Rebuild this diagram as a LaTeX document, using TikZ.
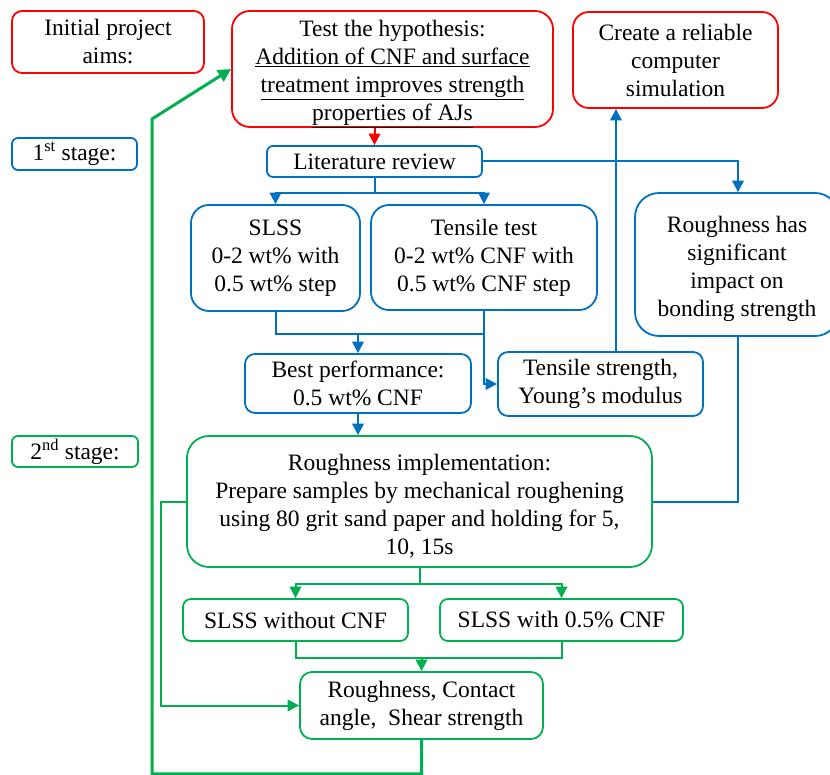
\documentclass[tikz,border=0pt]{standalone}
\usepackage{fontspec}
\setmainfont{Liberation Serif}
\usetikzlibrary{arrows.meta}
\definecolor{cred}{HTML}{FF0000}
\definecolor{cblue}{HTML}{0070C0}
\definecolor{cgreen}{HTML}{00B050}
\begin{document}
\begin{tikzpicture}[x=1pt,y=-1pt,
  txt/.style={align=center, inner sep=0pt, font=\fontsize{23.5}{28}\selectfont, text=black},
  box/.style={txt, draw, line width=1.8pt},
  redbox/.style={box, draw=cred},
  bluebox/.style={box, draw=cblue},
  greenbox/.style={box, draw=cgreen},
  tip/.style={-{Triangle[length=11.5pt,width=11.5pt]}},
  bline/.style={draw=cblue, line width=2pt},
  gline/.style={draw=cgreen, line width=2pt},
  rline/.style={draw=cred, line width=2pt}]
\useasboundingbox (0,0) rectangle (830,775);
\fill[white] (0,0) rectangle (830,775);
% nodes
\node[redbox, rounded corners=10pt, minimum width=192pt, minimum height=62pt] (aims) at (108,42) {Initial project\\aims:};
\node[redbox, rounded corners=18pt, minimum width=321pt, minimum height=116pt] (hyp) at (392.5,69) {};
\node[txt] (hyptext) at ([yshift=-5pt]hyp.center)
  {Test the hypothesis:\\\underline{Addition of CNF and surface}\\\underline{treatment improves strength}\\\underline{properties of AJs}};
\node[redbox, rounded corners=16pt, minimum width=205pt, minimum height=96pt] (sim) at (675.5,60) {Create a reliable\\computer\\simulation};
\node[bluebox, rounded corners=6pt, minimum width=125pt, minimum height=32pt] (st1) at (74.5,154) {1\textsuperscript{st} stage:};
\node[bluebox, rounded corners=6pt, minimum width=215pt, minimum height=31pt] (lit) at (374.5,161.5) {Literature review};
\node[bluebox, rounded corners=18pt, minimum width=169pt, minimum height=106pt] (slss) at (275.5,258) {SLSS\\0-2 wt\% with\\0.5 wt\% step};
\node[bluebox, rounded corners=18pt, minimum width=226pt, minimum height=105pt] (tens) at (484,257.5) {Tensile test\\0-2 wt\% CNF with\\0.5 wt\% CNF step};
\node[bluebox, rounded corners=24pt, minimum width=204pt, minimum height=143pt] (rough) at (737,264.5) {\rule{0pt}{26pt}Roughness has\\significant\\impact on\\bonding strength};
\node[bluebox, rounded corners=10pt, minimum width=226pt, minimum height=59pt] (best) at (358,383.5) {Best performance:\\0.5 wt\% CNF};
\node[bluebox, rounded corners=10pt, minimum width=205pt, minimum height=64pt] (tstr) at (600.5,384) {Tensile strength,\\Young’s modulus};
\node[greenbox, rounded corners=6pt, minimum width=126pt, minimum height=31pt] (st2) at (75,451.5) {2\textsuperscript{nd} stage:};
\node[greenbox, rounded corners=22pt, minimum width=465pt, minimum height=131pt] (impl) at (419.5,501.5)
  {\rule{0pt}{26pt}Roughness implementation:\\Prepare samples by mechanical roughening\\using 80 grit sand paper and holding for 5,\\10, 15s};
\node[greenbox, rounded corners=8pt, minimum width=225pt, minimum height=42pt] (wo) at (295.5,620) {SLSS without CNF};
\node[greenbox, rounded corners=8pt, minimum width=243pt, minimum height=42pt] (wi) at (561.5,620) {SLSS with 0.5\% CNF};
\node[greenbox, rounded corners=12pt, minimum width=243pt, minimum height=67pt] (rc) at (421.5,705.5) {Roughness, Contact\\angle,\ \ Shear strength};
% connectors
\draw[rline, tip] (lit.north |- hyp.south) -- (lit.north);
\draw[bline] (lit.south) -- ++(0,15) coordinate (ls);
\draw[bline, tip] (ls) -| (slss.north);
\draw[bline, tip] (ls) -| (tens.north);
\draw[bline, tip] (lit.east) -| ([xshift=1pt]rough.north);
\draw[bline] (slss.south) -- ++(0,22) coordinate (sb) -| (tens.south);
\draw[bline, tip] (best.north |- sb) -- (best.north);
\draw[bline, tip] (tens.south) |- (tstr.west);
\draw[bline, tip] ([xshift=15.5pt]tstr.north) -- ([xshift=15.5pt]tstr.north |- sim.south);
\draw[bline, tip] (best.south) -- (best.south |- impl.north);
\draw[bline] ([xshift=1pt]rough.south) |- (impl.east);
\draw[gline] (impl.south) -- ++(0,16) coordinate (is);
\draw[gline, tip] (is) -| (wo.north);
\draw[gline, tip] (is) -| (wi.north);
\draw[gline] (wo.south) -- ++(0,16) coordinate (wb) -| (wi.south);
\draw[gline, tip] (rc.north |- wb) -- (rc.north);
\draw[gline, tip] (impl.west) -- ++(-25,0) |- (rc.west);
\coordinate (gk) at (152,119);
\draw[draw=cgreen, line width=3pt, -{Triangle[length=13pt,width=13pt]}]
  (rc.south) -- ++(0,34) -| (gk) -- (hyp.west);
\end{tikzpicture}
\end{document}
